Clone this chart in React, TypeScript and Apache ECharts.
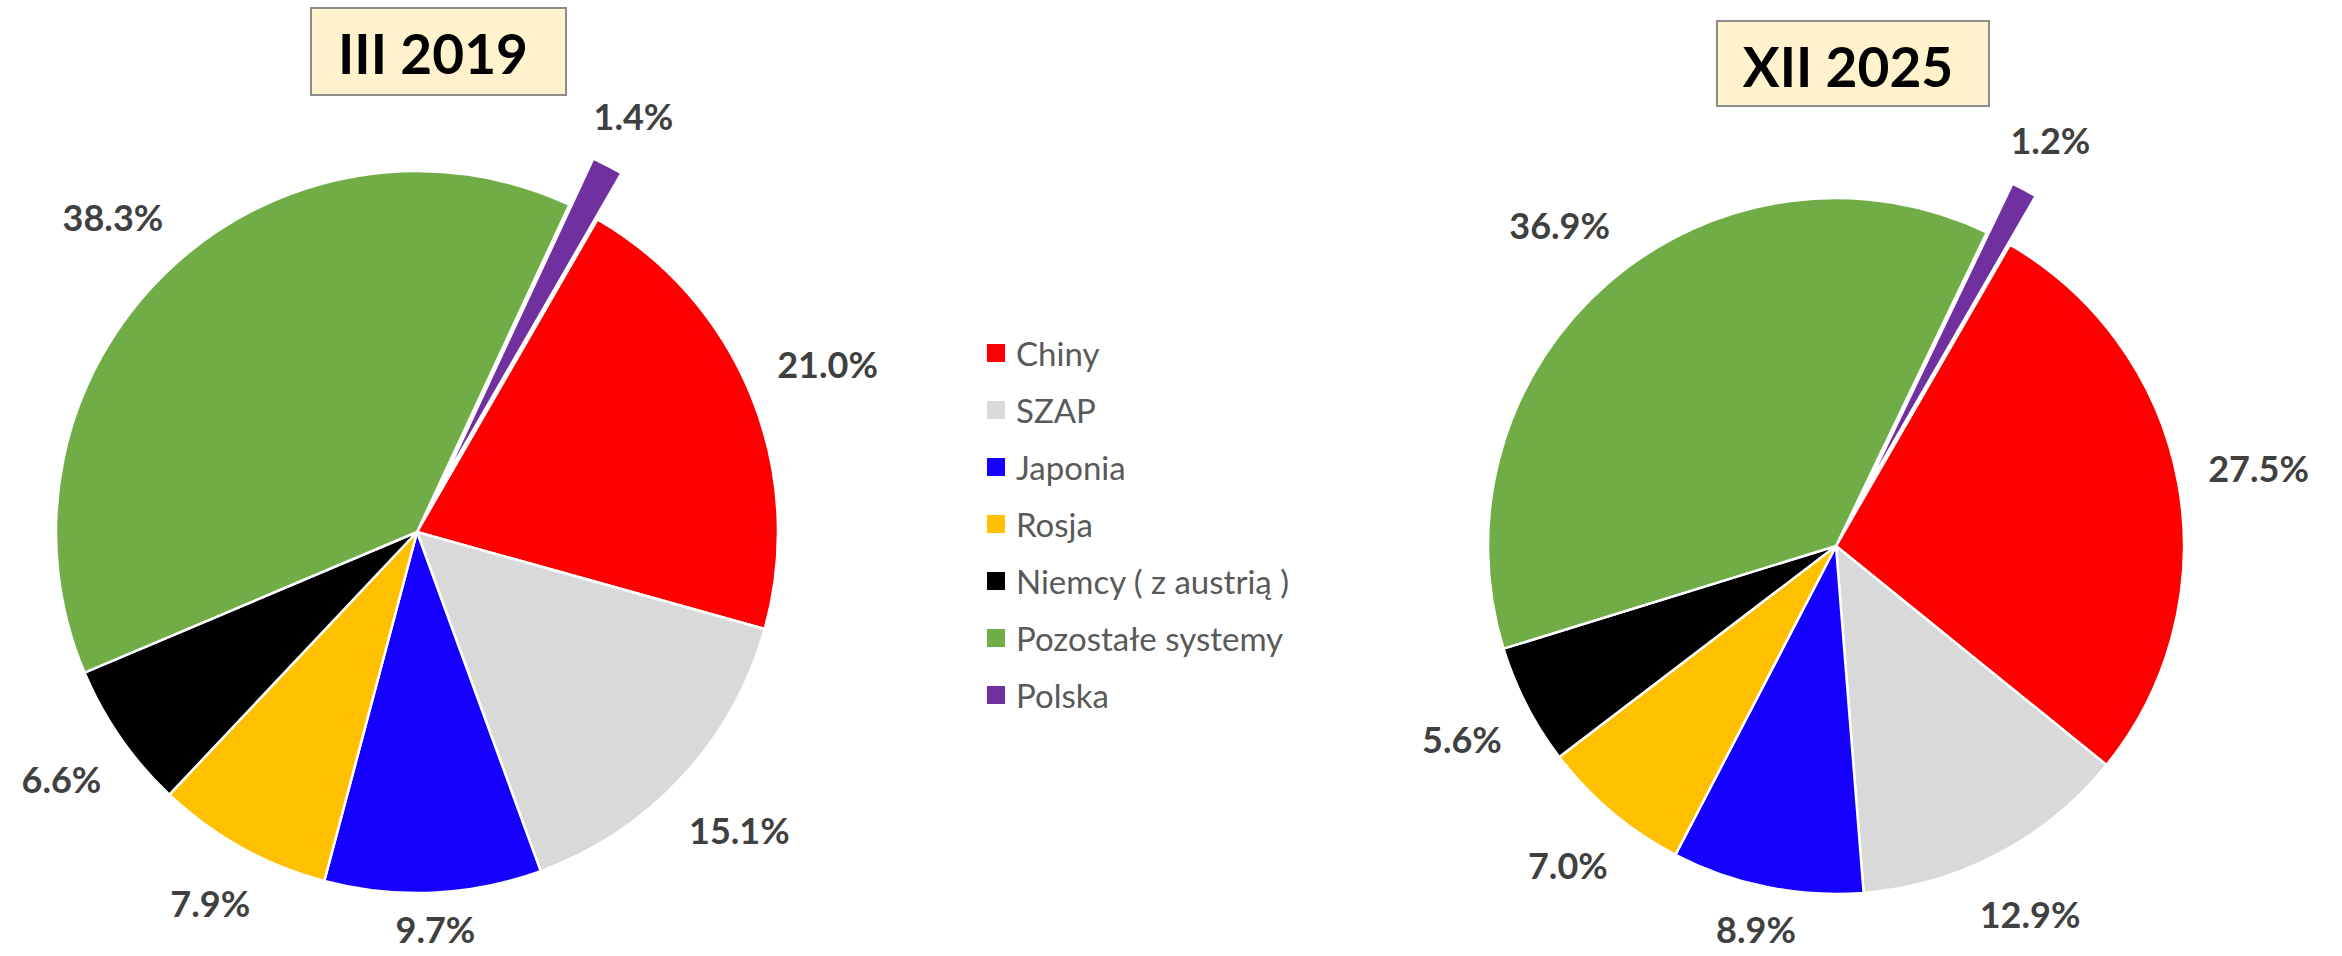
import React, { useEffect, useRef } from "react";
import * as echarts from "echarts";

const categories = [
  "Chiny",
  "SZAP",
  "Japonia",
  "Rosja",
  "Niemcy ( z austrią )",
  "Pozostałe systemy",
  "Polska",
];
const values2019 = [21.0, 15.1, 9.7, 7.9, 6.6, 38.3, 1.4];
const values2025 = [27.5, 12.9, 8.9, 7.0, 5.6, 36.9, 1.2];
const sliceColors = ["#FF0000", "#D9D9D9", "#1500FF", "#FFC000", "#000000", "#70AD47", "#7030A0"];
const periodTitles = ["III 2019", "XII 2025"];
const explodedCategory = "Polska";

const FONT = "Lato, 'Open Sans', sans-serif";
const LABEL_GAP = 29;
const LABEL_SIZE = 36;
const CHART_W = 2342;
const CHART_H = 956;

function buildData(values: number[], withColor: boolean) {
  return categories.map((name, i) => ({
    name,
    value: values[i],
    selected: name === explodedCategory,
    itemStyle: withColor ? { color: sliceColors[i] } : { color: "rgba(0,0,0,0)", borderWidth: 0 },
  }));
}

function mainPie(values: number[], center: number[], radius: number, offset: number) {
  return {
    type: "pie",
    center,
    radius,
    startAngle: 60,
    clockwise: true,
    selectedMode: "single",
    selectedOffset: offset,
    avoidLabelOverlap: false,
    label: { show: false },
    labelLine: { show: false },
    itemStyle: { borderColor: "#ffffff", borderWidth: 2.5 },
    emphasis: { disabled: true },
    select: { itemStyle: { borderColor: "#ffffff", borderWidth: 2.5 } },
    data: buildData(values, true),
  };
}

function labelPie(values: number[], center: number[], radius: number, ring: number[], offset: number) {
  return {
    type: "pie",
    center,
    radius: ring,
    startAngle: 60,
    clockwise: true,
    selectedMode: "single",
    selectedOffset: offset,
    silent: true,
    legendHoverLink: false,
    avoidLabelOverlap: false,
    emphasis: { disabled: true },
    labelLine: { show: false },
    label: {
      show: true,
      position: "inside",
      formatter: (p: any) => Number(p.value).toFixed(1) + "%",
      fontFamily: FONT,
      fontWeight: "bold",
      fontSize: LABEL_SIZE,
      lineHeight: 36,
      color: "#404040",
    },
    // place each label box just outside the pie edge, along the slice's mid direction
    labelLayout: (params: any) => {
      if (categories[params.dataIndex] === explodedCategory) return {};
      const r = params.labelRect;
      const lx = r.x + r.width / 2;
      const ly = r.y + r.height / 2;
      const dx = lx - center[0];
      const dy = ly - center[1];
      const d = Math.hypot(dx, dy) || 1;
      const ux = dx / d;
      const uy = dy / d;
      const dist = radius + LABEL_GAP + Math.abs(ux) * r.width / 2 + Math.abs(uy) * r.height / 2;
      const x = center[0] + ux * dist;
      let y = center[1] + uy * dist;
      y = Math.min(y, CHART_H - LABEL_SIZE * 0.75);
      return { x: Math.min(x, CHART_W - 2 - r.width / 2), y };
    },
    select: { label: { color: "#404040" } },
    data: buildData(values, false),
  };
}

export default function App() {
  const ref = useRef<HTMLDivElement>(null);
  useEffect(() => {
    if (!ref.current) return;
    const chart = echarts.init(ref.current, undefined, { renderer: "svg" });
    chart.setOption({
      animation: false,
      backgroundColor: "#ffffff",
      legend: {
        orient: "vertical",
        left: 980,
        top: 330,
        itemWidth: 20,
        itemHeight: 20,
        itemGap: 21,
        icon: "rect",
        selectedMode: false,
        data: categories,
        textStyle: {
          fontFamily: FONT,
          fontSize: 33,
          color: "#595959",
          lineHeight: 36,
          padding: [0, 0, 0, 5],
        },
      },
      graphic: [
        {
          type: "rect",
          shape: { x: 311, y: 8, width: 255, height: 87 },
          style: { fill: "#FFF2CC", stroke: "#8C8C8C", lineWidth: 2 },
        },
        {
          type: "text",
          x: 433,
          y: 53,
          style: {
            text: periodTitles[0],
            fill: "#000000",
            font: "bold 55px " + FONT,
            align: "center",
            verticalAlign: "middle",
          },
        },
        {
          type: "rect",
          shape: { x: 1717, y: 21, width: 272, height: 85 },
          style: { fill: "#FFF2CC", stroke: "#8C8C8C", lineWidth: 2 },
        },
        {
          type: "text",
          x: 1848,
          y: 66,
          style: {
            text: periodTitles[1],
            fill: "#000000",
            font: "bold 55px " + FONT,
            align: "center",
            verticalAlign: "middle",
          },
        },
      ],
      series: [
        mainPie(values2019, [417, 532], 361, 52),
        mainPie(values2025, [1836, 546], 348, 55),
        labelPie(values2019, [417, 532], 361, [428, 432], 36),
        labelPie(values2025, [1836, 546], 348, [414, 418], 40),
      ],
    });
    return () => chart.dispose();
  }, []);
  return (
    <div
      ref={ref}
      style={{ position: "fixed", left: 0, top: 0, width: CHART_W, height: CHART_H, background: "#fff" }}
    />
  );
}
